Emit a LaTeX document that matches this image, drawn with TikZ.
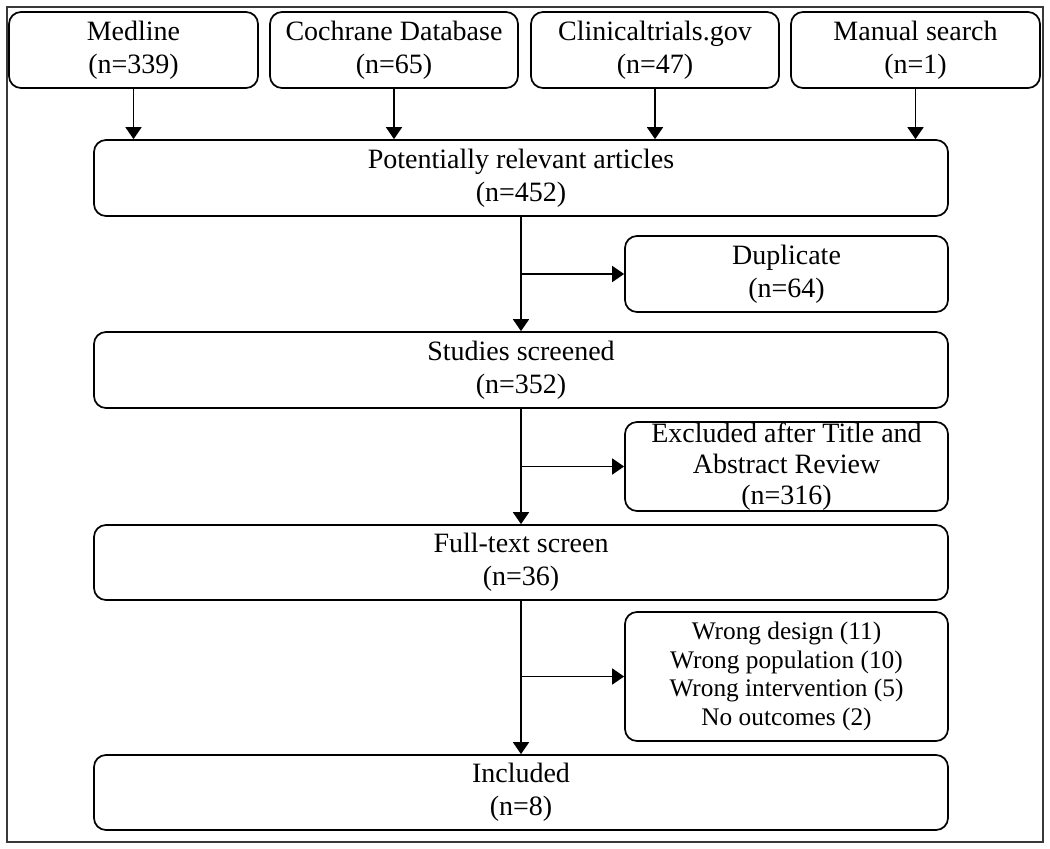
\documentclass[tikz,border=0pt]{standalone}
\usepackage{fontspec}
\setmainfont{Liberation Serif}
\usetikzlibrary{
    arrows.meta,
    calc
}
\tikzset{
  every path/.style={
    black,
    line width=1.3pt
  },
  box/.style={
    draw,
    rounded corners=9pt,
    align=center,
    inner sep=0pt,
    minimum height=57pt,
    font=\fontsize{21}{24.5}\selectfont
  },
  flow/.style={
    -{Triangle[width=12pt,length=9pt]}
  }
}

\begin{document}
\begin{tikzpicture}[x=0.75pt,y=-0.75pt]
    \useasboundingbox (0,0) rectangle (1050,849);
    % Rahmen
    \draw[gray!45!black,line width=1.6pt] (7,7) rectangle (1043,842);

    % Quellen
    \node[box,minimum width=186.75pt] (medline)  at (133.5,50) {Medline\\(n=339)};
    \node[box,minimum width=186pt]    (cochrane) at (394,50)   {Cochrane Database\\(n=65)};
    \node[box,minimum width=186pt]    (clinical) at (655,50)   {Clinicaltrials.gov\\(n=47)};
    \node[box,minimum width=186.75pt] (manual)   at (915.5,50) {Manual search\\(n=1)};

    % Hauptspalte
    \node[box,minimum width=640.5pt] (potential) at (521,178)   {Potentially relevant articles\\(n=452)};
    \node[box,minimum width=640.5pt] (screened)  at (521,370)   {Studies screened\\(n=352)};
    \node[box,minimum width=640.5pt,minimum height=56.25pt] (fulltext) at (521,562.5) {Full-text screen\\(n=36)};
    \node[box,minimum width=640.5pt,minimum height=56.25pt] (included) at (521,792.5) {Included\\(n=8)};

    % Ausschluesse
    \node[box,minimum width=242.25pt] (duplicate) at (786.5,274) {Duplicate\\(n=64)};
    \node[box,minimum width=242.25pt,minimum height=66.75pt,
          font=\fontsize{21}{23.25}\selectfont] (excluded) at (786.5,466.5)
          {Excluded after Title and\\Abstract Review\\(n=316)};
    \node[box,minimum width=242.25pt,minimum height=96.75pt,
          font=\fontsize{19}{21.4}\selectfont] (reasons) at (786.5,676.5)
          {Wrong design (11)\\Wrong population (10)\\Wrong intervention (5)\\No outcomes (2)};

    % Pfeile
    \foreach \src in {medline,cochrane,clinical,manual}
        \draw[flow] (\src) -- (\src |- potential.north);

    \draw[flow] (potential) -- (screened);
    \draw[flow] (screened) -- (fulltext);
    \draw[flow] (fulltext) -- (included);

    \draw[flow] (potential.south |- duplicate.west) -- (duplicate);
    \draw[flow] (screened.south |- excluded.west) -- (excluded);
    \draw[flow] (fulltext.south |- reasons.west) -- (reasons);
\end{tikzpicture}
\end{document}
